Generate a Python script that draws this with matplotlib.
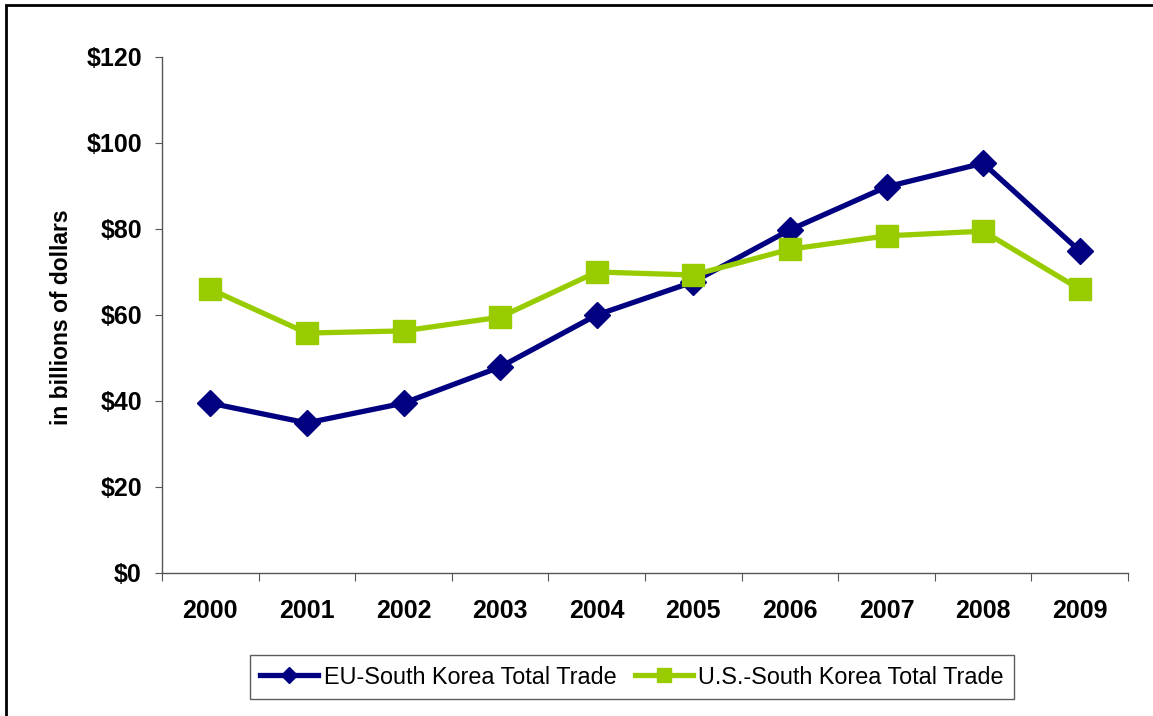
import matplotlib
matplotlib.use('Agg')
import matplotlib.pyplot as plt
from matplotlib.patches import Rectangle

plt.rcParams['font.family'] = ['Liberation Sans', 'DejaVu Sans']

years = ['2000', '2001', '2002', '2003', '2004', '2005', '2006', '2007', '2008', '2009']
eu_trade = [39.5, 34.9, 39.5, 47.9, 60.0, 67.7, 79.8, 89.8, 95.3, 74.9]
us_trade = [66.0, 55.8, 56.3, 59.5, 70.0, 69.3, 75.3, 78.4, 79.5, 66.0]
y_ticks = [0, 20, 40, 60, 80, 100, 120]

NAVY = '#000080'
GREEN = '#99CC00'

fig = plt.figure(figsize=(11.53, 7.16), dpi=100)
fig.patch.set_facecolor('white')
ax = fig.add_axes([162 / 1153, 1 - 573 / 716, (1128 - 162) / 1153, (573 - 57) / 716])

x = list(range(len(years)))
ax.plot(x, eu_trade, color=NAVY, lw=3.8, marker='D', markersize=13,
        markerfacecolor=NAVY, markeredgecolor=NAVY, label='EU-South Korea Total Trade', zorder=3)
ax.plot(x, us_trade, color=GREEN, lw=3.8, marker='s', markersize=16.5,
        markerfacecolor=GREEN, markeredgecolor=GREEN, label='U.S.-South Korea Total Trade', zorder=4)

ax.set_xlim(-0.5, len(years) - 0.5)
ax.set_ylim(0, 120)

# tick marks between categories, labels at centres
ax.set_xticks([i - 0.5 for i in range(len(years) + 1)])
ax.set_xticklabels([])
ax.set_xticks(x, minor=True)
ax.set_xticklabels(years, minor=True, fontsize=18, fontweight='bold')
ax.tick_params(axis='x', which='minor', length=0, pad=19)
ax.tick_params(axis='x', which='major', length=6, direction='out', color='#555555')

ax.set_yticks(y_ticks)
ax.set_yticklabels(['$%d' % v for v in y_ticks], fontsize=18, fontweight='bold')
ax.tick_params(axis='y', length=5, direction='out', color='#555555', pad=9.5)

for side in ['top', 'right']:
    ax.spines[side].set_visible(False)
for side in ['left', 'bottom']:
    ax.spines[side].set_color('#555555')
    ax.spines[side].set_linewidth(1.0)

fig.text(61 / 1153, 1 - 317 / 716, 'in billions of dollars', rotation=90,
         ha='center', va='center', fontsize=16.5, fontweight='bold')

leg = fig.legend(loc='center', bbox_to_anchor=(632 / 1153, 1 - 677 / 716), ncol=2,
                 fontsize=16.8, frameon=True, fancybox=False, handlelength=2.5,
                 columnspacing=0.8, handletextpad=0.22, borderpad=0.45,
                 borderaxespad=0, markerscale=0.65)
leg.get_frame().set_edgecolor('#333333')
leg.get_frame().set_linewidth(1.0)

# outer frame
fig.patches.append(Rectangle((6 / 1153, -0.05), 1.2, (1 - 5 / 716) + 0.05,
                             transform=fig.transFigure, fill=False,
                             edgecolor='black', linewidth=2.0))

fig.savefig('out.png', dpi=100, facecolor='white')
